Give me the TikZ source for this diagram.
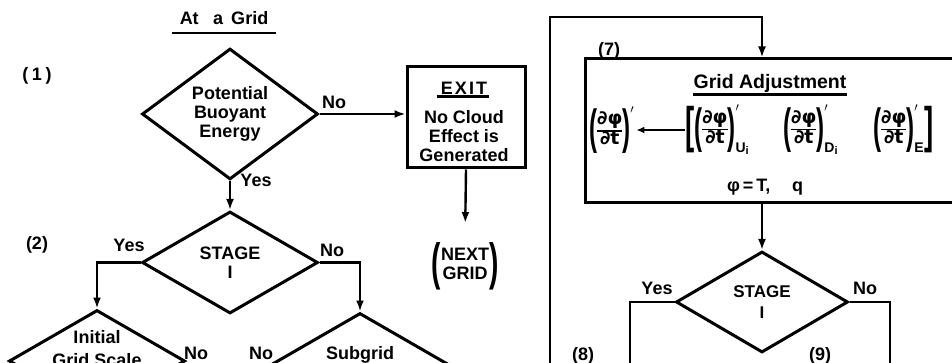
\documentclass[tikz,border=0pt]{standalone}
\usepackage{amsmath}
\usepackage{fontspec}
\setmainfont{Liberation Sans}
\newfontfamily\dejafont{DejaVu Sans}
\usetikzlibrary{shapes.geometric,arrows.meta}
\newcommand{\mypl}{\vcenter{\hbox{\scalebox{0.5}[1]{\fontsize{48}{48}\selectfont(}}}}
\newcommand{\mypr}{\vcenter{\hbox{\scalebox{0.5}[1]{\fontsize{48}{48}\selectfont)}}}}
\newcommand{\mybl}{\vcenter{\hbox{\scalebox{0.55}[1]{\fontsize{50}{50}\selectfont[}}}}
\newcommand{\mybr}{\vcenter{\hbox{\scalebox{0.55}[1]{\fontsize{50}{50}\selectfont]}}}}
\newcommand{\mynpl}{\vcenter{\hbox{\scalebox{0.55}[1]{\fontsize{51}{51}\selectfont(}}}}
\newcommand{\mynpr}{\vcenter{\hbox{\scalebox{0.55}[1]{\fontsize{51}{51}\selectfont)}}}}
\newcommand{\myfrac}{\vcenter{\hbox{\dejafont\bfseries\fontsize{19}{18}\selectfont\setlength{\arrayrulewidth}{1.7pt}\renewcommand{\arraystretch}{1.0}\begin{tabular}{@{}c@{}}∂φ\\\hline ∂t\end{tabular}}}}
\newcommand{\mysub}[2]{\hbox{\fontsize{14}{14}\selectfont\bfseries #1\raisebox{-2pt}{\fontsize{11}{11}\selectfont #2}}}
\begin{document}
\begin{tikzpicture}[x=1pt,y=-1pt,
  txt/.style={inner sep=0pt, font=\fontsize{18}{19}\selectfont\bfseries, align=center},
  dia/.style={draw, diamond, line width=3pt, inner sep=0pt, minimum width=176pt, minimum height=102pt},
  boxx/.style={draw, rectangle, line width=3pt, inner sep=0pt},
  conn/.style={line width=2.4pt},
  arr/.style={conn, -{Latex[length=11pt,width=8pt]}},
  ul/.style={line width=2.6pt}]
\useasboundingbox (0,0) rectangle (952,363);
\clip (0,0) rectangle (952,363);
\fill[white] (0,0) rectangle (952,363);

% ---- left part ----
\node[txt] (title) at (224,18) {At\hspace{0.8em}a\hspace{0.45em}Grid};
\draw[ul] (172,33) -- (276,33);
\node[txt] (l1) at (37,76) {(\hspace{0.2em}1\hspace{0.2em})};
\node[txt] (l2) at (37,245) {(2)};

\node[dia,txt] (d1) at (230,114) {Potential\\Buoyant\\Energy};
\node[dia,txt] (s1) at (230,262.5) {STAGE\\I};
\node[dia] (init) at (97,361) {};
\node[txt, anchor=north] (initt) at (97,330) {Initial\\[4pt]Grid Scale};
\node[dia] (sub) at (360,364) {};
\node[txt] (subt) at (360,355) {Subgrid};

\node[boxx, minimum width=118pt, minimum height=101pt] (exit) at (466,117.5) {};
\node[txt] (exitt) at (464,88) {\addfontfeature{LetterSpace=12}EXIT};
\draw[ul] ([xshift=-4pt,yshift=-2pt]exitt.south west) -- ([xshift=2pt,yshift=-2pt]exitt.south east);
\node[txt] (exitb) at (464,136) {No Cloud\\Effect is\\Generated};
\node[txt] (next) at (465,266) {$\mynpl\vcenter{\hbox{\begin{tabular}{@{}c@{}}NEXT\\GRID\end{tabular}}}\mynpr$};

\draw[arr] (d1.south) -- (s1.north);
\draw[arr] (d1.east) -- (d1.east -| exit.west);
\draw[arr, shorten >=19pt] (exit.south) -- (next.north);
\draw[arr] (s1.west) -| (init.north);
\draw[arr] (s1.east) -| (sub.north);

\node[txt] (ly1) at (256,180) {Yes};
\node[txt] (ln1) at (334,102) {No};
\node[txt] (ly2) at (129,245) {Yes};
\node[txt] (ln2) at (332,250) {No};
\node[txt] (ln3) at (196,353) {No};
\node[txt] (ln4) at (261,353) {No};

% ---- right part ----
\coordinate (loopbot) at (550,375);
\coordinate (looptop) at (550,17);
\node[txt] (l7) at (609,51) {(7)};
\node[boxx, minimum width=380pt, minimum height=144pt] (adj) at (775,131) {};
\node[txt, font=\fontsize{19.5}{20}\selectfont\bfseries] (gat) at (770,83) {Grid Adjustment};
\draw[ul] ([yshift=-2.5pt]gat.south west) -- ([yshift=-2.5pt]gat.south east);

\node[txt, anchor=west] (fa) at (589,130) {$\mypl\myfrac\mypr^{\prime}$};
\node[txt, anchor=west] (fb) at (685,130) {$\mybl\mypl\myfrac\mypr^{\prime}_{\mysub{U}{i}}$};
\node[txt, anchor=west] (fc) at (783,130) {$\mypl\myfrac\mypr^{\prime}_{\mysub{D}{i}}$};
\node[txt, anchor=west] (fd) at (873,130) {$\mypl\myfrac\mypr^{\prime}_{\mysub{E}{}}\mybr$};
\draw[line width=2pt, -{Latex[length=8pt,width=7pt]}, shorten >=2pt] (fb.west) -- (fa.east);

\node[txt] (phit) at (765,187) {φ\thinspace=\thinspace T,\hspace{1.2em}q};

\node[dia, txt, minimum width=172pt, minimum height=101pt, font=\fontsize{17}{21}\selectfont\bfseries] (s2) at (762,302) {STAGE\\I};
\coordinate (yb) at (630,375);
\coordinate (nb) at (890,375);

\draw[arr] (loopbot) -- (looptop) -| (adj.north -| s2.north);
\draw[arr] (adj.south -| s2.north) -- (s2.north);
\draw[conn] (s2.west) -| (yb);
\draw[conn] (s2.east) -| (nb);

\node[txt] (ly3) at (657,288) {Yes};
\node[txt] (ln5) at (865,288) {No};
\node[txt] (l8) at (583,356) {(8)};
\node[txt] (l9) at (820,356) {(9)};
\end{tikzpicture}
\end{document}
